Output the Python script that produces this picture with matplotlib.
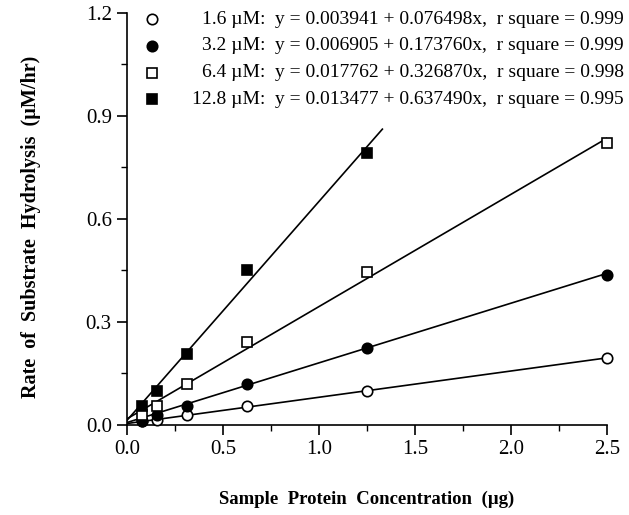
import matplotlib.pyplot as plt
import numpy as np

plt.rcParams['font.family'] = ['Liberation Serif', 'DejaVu Serif']

# protein concentration (ug)
protein = [0.078, 0.156, 0.3125, 0.625, 1.25, 2.5]

# rates (uM/hr)
rate_1_6 = [0.010, 0.015, 0.030, 0.055, 0.100, 0.195]
rate_3_2 = [0.010, 0.030, 0.055, 0.120, 0.225, 0.437]
rate_6_4 = [0.030, 0.055, 0.120, 0.240, 0.445, 0.822]
rate_12_8 = [0.055, 0.100, 0.205, 0.452, 0.793]

labels = ["1.6 \u00b5M:", "3.2 \u00b5M:", "6.4 \u00b5M:", "12.8 \u00b5M:"]
intercepts = [0.003941, 0.006905, 0.017762, 0.013477]
slopes = [0.076498, 0.173760, 0.326870, 0.637490]
r_square = [0.999, 0.999, 0.998, 0.995]
fit_end = [2.5, 2.5, 2.5, 1.33]

series = [rate_1_6, rate_3_2, rate_6_4, rate_12_8]
markers = ["o", "o", "s", "s"]
faces = ["white", "black", "white", "black"]

fig = plt.figure(figsize=(6.29, 5.15), dpi=100)
ax = fig.add_axes([0.202, 0.175, 0.763, 0.80])

for ys, m, fc, b, k, xe in zip(series, markers, faces, intercepts, slopes, fit_end):
    xs = np.array([0, xe])
    ax.plot(xs, b + k * xs, color="black", lw=1.2, zorder=2)
    ax.plot(protein[:len(ys)], ys, ls="none", marker=m, ms=7.5, mfc=fc,
            mec="black", mew=1.2, zorder=3, clip_on=False)

# legend drawn by hand
for i, (lab, m, fc, b, k, r2) in enumerate(zip(labels, markers, faces,
                                               intercepts, slopes, r_square)):
    yy = 0.985 - i * 0.065
    ax.plot([0.052], [yy], transform=ax.transAxes, ls="none", marker=m, ms=7.5,
            mfc=fc, mec="black", mew=1.2, clip_on=False)
    ax.text(0.2875, yy, lab, transform=ax.transAxes, ha="right", va="center",
            fontsize=14)
    ax.text(0.308, yy, f"y = {b:.6f} + {k:.6f}x,  r square = {r2:.3f}",
            transform=ax.transAxes, ha="left", va="center", fontsize=14)

ax.set_xlim(0, 2.5)
ax.set_ylim(0, 1.2)
ax.set_xticks([0, 0.5, 1.0, 1.5, 2.0, 2.5])
ax.set_xticks(np.arange(0.25, 2.5, 0.5), minor=True)
ax.set_yticks([0, 0.3, 0.6, 0.9, 1.2])
ax.set_yticks([0.15, 0.45, 0.75, 1.05], minor=True)
ax.xaxis.set_major_formatter(plt.FormatStrFormatter("%.1f"))
ax.yaxis.set_major_formatter(plt.FormatStrFormatter("%.1f"))
ax.tick_params(which="major", direction="out", length=7, width=1.2,
               labelsize=15, pad=4)
ax.tick_params(which="minor", direction="out", length=4, width=1.0)
ax.spines["top"].set_visible(False)
ax.spines["right"].set_visible(False)
ax.spines["left"].set_linewidth(1.2)
ax.spines["bottom"].set_linewidth(1.2)

ax.set_xlabel("Sample  Protein  Concentration  (\u00b5g)", fontsize=13.5,
              fontweight="bold", labelpad=23)
ax.set_ylabel("Rate  of  Substrate  Hydrolysis  (\u00b5M/hr)", fontsize=14.5,
              fontweight="bold")
ax.yaxis.set_label_coords(-0.18, 0.48)

fig.savefig("out.png", dpi=100)
